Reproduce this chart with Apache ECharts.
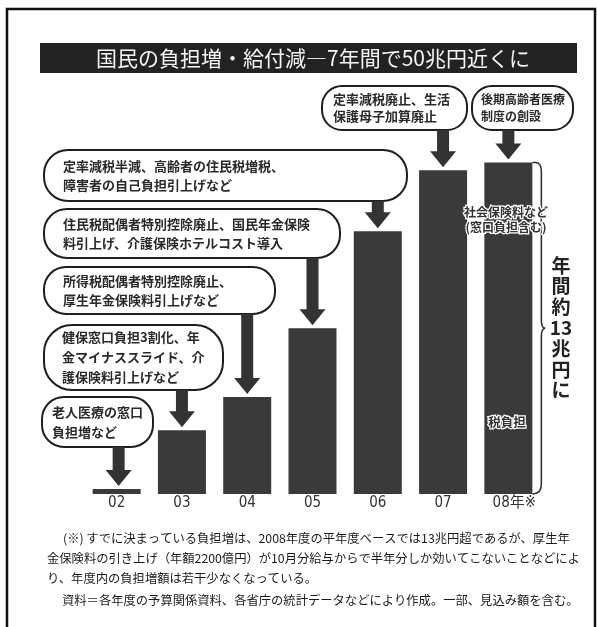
<!DOCTYPE html>
<html>
<head>
<meta charset="utf-8">
<script src="https://cdn.jsdelivr.net/npm/echarts@6/dist/echarts.min.js"></script>
<style>
html,body{margin:0;padding:0;background:#fff;}
#c{width:597px;height:627px;}
</style>
</head>
<body>
<div id="c"></div>
<script>
// ---- data (兆円, estimated) ----
const categories = ['02', '03', '04', '05', '06', '07', '08年※'];
const burden = [0.2, 2.5, 3.8, 6.5, 10.3, 12.7, 13.0];
const titleText = '国民の負担増・給付減―7年間で50兆円近くに';
const calloutTexts = [
  '老人医療の窓口\n負担増など',
  '健保窓口負担3割化、年\n金マイナススライド、介\n護保険料引上げなど',
  '所得税配偶者特別控除廃止、\n厚生年金保険料引上げなど',
  '住民税配偶者特別控除廃止、国民年金保険\n料引上げ、介護保険ホテルコスト導入',
  '定率減税半減、高齢者の住民税増税、\n障害者の自己負担引上げなど',
  '定率減税廃止、生活\n保護母子加算廃止',
  '後期高齢者医療\n制度の創設'
];
const braceText = '年\n間\n約\n13\n兆\n円\nに';
const insideTop = '社会保険料など\n(窓口負担含む)';
const insideBottom = '税負担';
const noteLines = [
  '(※) すでに決まっている負担増は、2008年度の平年度ベースでは13兆円超であるが、厚生年',
  '金保険料の引き上げ（年額2200億円）が10月分給与からで半年分しか効いてこないことなどによ',
  'り、年度内の負担増額は若干少なくなっている。',
  '資料＝各年度の予算関係資料、各省庁の統計データなどにより作成。一部、見込み額を含む。'
];

// ---- layout (pixels) ----
const calloutBoxes = [
  {x: 42, y: 397, w: 111, h: 50, pad: 10, lh: 20, r: 22, fs: 13},
  {x: 44, y: 325, w: 179, h: 65, pad: 18, lh: 20, r: 28, fs: 13},
  {x: 44, y: 267, w: 231, h: 47, pad: 19, lh: 19, r: 22, fs: 13},
  {x: 44, y: 209, w: 296, h: 49, pad: 19, lh: 19, r: 23, fs: 13},
  {x: 44, y: 150, w: 363, h: 51, pad: 19, lh: 19, r: 24, fs: 13},
  {x: 322, y: 86, w: 145, h: 44, pad: 11, lh: 17, r: 20, fs: 13},
  {x: 472, y: 86, w: 101, h: 44, pad: 9, lh: 17, r: 20, fs: 12}
];
const noteLayout = [
  {x: 63, y: 538}, {x: 47, y: 558}, {x: 47, y: 578}, {x: 62, y: 600}
];
const JP = "'Noto Sans CJK JP', sans-serif";
const INK = '#2a2a2a';

const chart = echarts.init(document.getElementById('c'));

const graphics = [];
// outer frame
graphics.push({type: 'rect', shape: {x: 7, y: 9, width: 588, height: 630},
  style: {fill: 'none', stroke: '#111', lineWidth: 2.5}, silent: true, z: 1});
// title bar
graphics.push({type: 'rect', shape: {x: 40, y: 43, width: 537, height: 30},
  style: {fill: '#222'}, z: 1});
graphics.push({type: 'text', x: 313, y: 58, z: 2,
  style: {text: titleText, fill: '#f4f4f4', font: "21px " + JP, align: 'center', verticalAlign: 'middle'}});
// callouts
calloutBoxes.forEach((b, i) => {
  graphics.push({type: 'rect', z: 3,
    shape: {x: b.x, y: b.y, width: b.w, height: b.h, r: b.r},
    style: {fill: '#fff', stroke: '#1e1e1e', lineWidth: 2}});
  graphics.push({type: 'text', z: 4, x: b.x + b.pad, y: b.y + b.h / 2,
    style: {text: calloutTexts[i], fill: INK, font: "bold " + b.fs + "px " + JP,
      lineHeight: b.lh, align: 'left', verticalAlign: 'middle'}});
});
// brace text
graphics.push({type: 'text', z: 4, x: 561, y: 255,
  style: {text: braceText, fill: '#222', font: "bold 19px " + JP, lineHeight: 20.8,
    align: 'center', verticalAlign: 'top'}});
// inside-bar labels
graphics.push({type: 'text', z: 6, x: 506, y: 220,
  style: {text: insideTop, fill: '#333', font: "bold 12px " + JP, lineHeight: 15,
    align: 'center', verticalAlign: 'middle', stroke: '#fff', lineWidth: 2.5}});
graphics.push({type: 'text', z: 6, x: 507, y: 422,
  style: {text: insideBottom, fill: '#333', font: "bold 12.5px " + JP,
    align: 'center', verticalAlign: 'middle', stroke: '#fff', lineWidth: 2.5}});
// notes
noteLines.forEach((t, i) => {
  graphics.push({type: 'text', z: 4, x: noteLayout[i].x, y: noteLayout[i].y,
    style: {text: t, fill: '#1a1a1a', font: "12.3px " + JP, align: 'left', verticalAlign: 'middle'}});
});

const arrowStartY = calloutBoxes.map(b => b.y + b.h);

chart.setOption({
  animation: false,
  backgroundColor: '#fff',
  grid: {left: 84, right: 56, top: 137, bottom: 133},
  xAxis: {
    type: 'category',
    data: categories.map((c, i) => i === categories.length - 1
      ? {value: c, textStyle: {padding: [0, 0, 0, 12]}} : c),
    axisLine: {show: false}, axisTick: {show: false},
    axisLabel: {color: '#333', fontSize: 15, margin: 2,
      fontFamily: "'Liberation Sans Narrow','DejaVu Sans Condensed','Noto Sans CJK JP',sans-serif"}
  },
  yAxis: {type: 'value', min: 0, max: 14, show: false},
  series: [
    {
      type: 'bar', data: burden, barWidth: 48, z: 2,
      itemStyle: {color: '#3a3a3a'}
    },
    {
      type: 'custom', z: 5,
      data: burden.map((v, i) => [i, v]),
      encode: {x: 0, y: 1},
      renderItem: function (params, api) {
        const i = api.value(0), v = api.value(1);
        const tip = api.coord([i, v]);
        const x = tip[0] + (i === 0 ? 2 : 0);
        const tipY = tip[1] - 3;
        const y0 = arrowStartY[params.dataIndex];
        const sw = 6, hw = 13, hh = 16;
        return {
          type: 'polygon',
          shape: {points: [[x - sw, y0], [x + sw, y0], [x + sw, tipY - hh], [x + hw, tipY - hh],
            [x, tipY], [x - hw, tipY - hh], [x - sw, tipY - hh]]},
          style: {fill: '#333'}
        };
      }
    },
    {
      type: 'custom', z: 5,
      data: [[burden.length - 1, burden[burden.length - 1]]],
      encode: {x: 0, y: 1},
      renderItem: function (params, api) {
        const i = api.value(0), v = api.value(1);
        const top = api.coord([i, v]);
        const bot = api.coord([i, 0]);
        const xr = top[0] + 24;
        const t = top[1], b = bot[1], m = (t + b) / 2;
        const bx = xr + 9;
        const d = 'M' + xr + ',' + t + ' L' + (xr + 3) + ',' + t +
          ' Q' + bx + ',' + t + ' ' + bx + ',' + (t + 9) +
          ' L' + bx + ',' + (m - 8) + ' Q' + bx + ',' + m + ' ' + (bx + 4) + ',' + m +
          ' Q' + bx + ',' + m + ' ' + bx + ',' + (m + 8) +
          ' L' + bx + ',' + (b - 10) + ' Q' + bx + ',' + b + ' ' + xr + ',' + b;
        return {type: 'path', shape: {pathData: d},
          style: {fill: 'none', stroke: '#333', lineWidth: 1.6}};
      }
    }
  ],
  graphic: graphics
});
</script>
</body>
</html>
